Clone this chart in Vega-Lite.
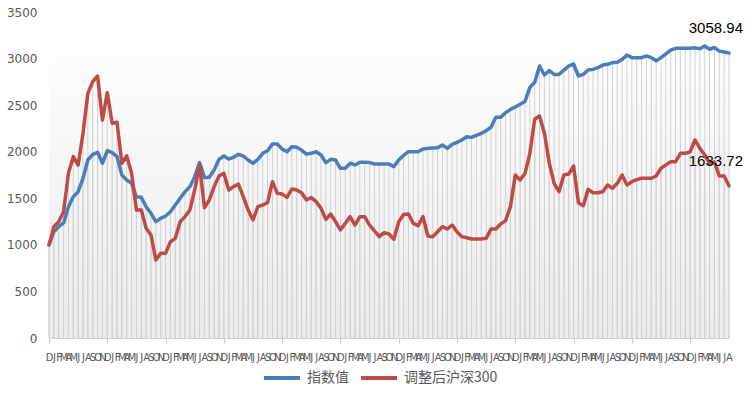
{
"$schema": "https://vega.github.io/schema/vega-lite/v6.json",
"width": 680, "height": 326,
"autosize": {"type": "none"},
"padding": {"left": 49, "top": 12, "right": 24, "bottom": 62},
"background": "white",
"config": {"view": {"stroke": null}},
"layer": [
{"data": {"values": [{}]},
 "mark": {"type": "rect", "color": {"gradient": "linear", "x1": 0, "y1": 0, "x2": 0, "y2": 1, "stops": [{"offset": 0, "color": "#ffffff"}, {"offset": 1, "color": "#ececec"}]}},
 "encoding": {}},
{"data": {"values": [
{"t":"2006-12","指数值":1000,"调整后沪深300":1000},
{"t":"2007-01","指数值":1140,"调整后沪深300":1195},
{"t":"2007-02","指数值":1195,"调整后沪深300":1249},
{"t":"2007-03","指数值":1235,"调整后沪深300":1356},
{"t":"2007-04","指数值":1410,"调整后沪深300":1768},
{"t":"2007-05","指数值":1517,"调整后沪深300":1947},
{"t":"2007-06","指数值":1571,"调整后沪深300":1857},
{"t":"2007-07","指数值":1714,"调整后沪深300":2198},
{"t":"2007-08","指数值":1911,"调整后沪深300":2627},
{"t":"2007-09","指数值":1972,"调整后沪深300":2752},
{"t":"2007-10","指数值":1994,"调整后沪深300":2813},
{"t":"2007-11","指数值":1876,"调整后沪深300":2340},
{"t":"2007-12","指数值":2011,"调整后沪深300":2634},
{"t":"2008-01","指数值":1990,"调整后沪深300":2305},
{"t":"2008-02","指数值":1947,"调整后沪深300":2316},
{"t":"2008-03","指数值":1750,"调整后沪深300":1876},
{"t":"2008-04","指数值":1696,"调整后沪深300":1957},
{"t":"2008-05","指数值":1661,"调整后沪深300":1768},
{"t":"2008-06","指数值":1517,"调整后沪深300":1374},
{"t":"2008-07","指数值":1510,"调整后沪深300":1374},
{"t":"2008-08","指数值":1410,"调整后沪深300":1178},
{"t":"2008-09","指数值":1339,"调整后沪深300":1106},
{"t":"2008-10","指数值":1249,"调整后沪深300":837},
{"t":"2008-11","指数值":1285,"调整后沪深300":909},
{"t":"2008-12","指数值":1310,"调整后沪深300":909},
{"t":"2009-01","指数值":1356,"调整后沪深300":1034},
{"t":"2009-02","指数值":1428,"调整后沪深300":1070},
{"t":"2009-03","指数值":1500,"调整后沪深300":1249},
{"t":"2009-04","指数值":1571,"调整后沪深300":1303},
{"t":"2009-05","指数值":1625,"调整后沪深300":1374},
{"t":"2009-06","指数值":1732,"调整后沪深300":1589},
{"t":"2009-07","指数值":1883,"调整后沪深300":1857},
{"t":"2009-08","指数值":1722,"调整后沪深300":1399},
{"t":"2009-09","指数值":1725,"调整后沪深300":1482},
{"t":"2009-10","指数值":1804,"调整后沪深300":1625},
{"t":"2009-11","指数值":1918,"调整后沪深300":1739},
{"t":"2009-12","指数值":1954,"调整后沪深300":1768},
{"t":"2010-01","指数值":1922,"调整后沪深300":1589},
{"t":"2010-02","指数值":1940,"调整后沪深300":1625},
{"t":"2010-03","指数值":1972,"调整后沪深300":1653},
{"t":"2010-04","指数值":1954,"调整后沪深300":1517},
{"t":"2010-05","指数值":1911,"调整后沪深300":1374},
{"t":"2010-06","指数值":1876,"调整后沪深300":1267},
{"t":"2010-07","指数值":1918,"调整后沪深300":1410},
{"t":"2010-08","指数值":1983,"调整后沪深300":1428},
{"t":"2010-09","指数值":2011,"调整后沪深300":1453},
{"t":"2010-10","指数值":2083,"调整后沪深300":1678},
{"t":"2010-11","指数值":2083,"调整后沪深300":1553},
{"t":"2010-12","指数值":2030,"调整后沪深300":1545},
{"t":"2011-01","指数值":2000,"调整后沪深300":1510},
{"t":"2011-02","指数值":2054,"调整后沪深300":1600},
{"t":"2011-03","指数值":2047,"调整后沪深300":1589},
{"t":"2011-04","指数值":2018,"调整后沪深300":1560},
{"t":"2011-05","指数值":1975,"调整后沪深300":1482},
{"t":"2011-06","指数值":1983,"调整后沪深300":1507},
{"t":"2011-07","指数值":2000,"调整后沪深300":1464},
{"t":"2011-08","指数值":1965,"调整后沪深300":1392},
{"t":"2011-09","指数值":1883,"调整后沪深300":1274},
{"t":"2011-10","指数值":1918,"调整后沪深300":1331},
{"t":"2011-11","指数值":1911,"调整后沪深300":1249},
{"t":"2011-12","指数值":1822,"调整后沪深300":1160},
{"t":"2012-01","指数值":1822,"调整后沪深300":1231},
{"t":"2012-02","指数值":1876,"调整后沪深300":1303},
{"t":"2012-03","指数值":1858,"调整后沪深300":1213},
{"t":"2012-04","指数值":1886,"调整后沪深300":1303},
{"t":"2012-05","指数值":1886,"调整后沪深300":1303},
{"t":"2012-06","指数值":1883,"调整后沪深300":1213},
{"t":"2012-07","指数值":1868,"调整后沪深300":1149},
{"t":"2012-08","指数值":1868,"调整后沪深300":1088},
{"t":"2012-09","指数值":1868,"调整后沪深300":1131},
{"t":"2012-10","指数值":1868,"调整后沪深300":1117},
{"t":"2012-11","指数值":1840,"调整后沪深300":1060},
{"t":"2012-12","指数值":1911,"调整后沪深300":1249},
{"t":"2013-01","指数值":1960,"调整后沪深300":1326},
{"t":"2013-02","指数值":2000,"调整后沪深300":1331},
{"t":"2013-03","指数值":2000,"调整后沪深300":1231},
{"t":"2013-04","指数值":2000,"调整后沪深300":1206},
{"t":"2013-05","指数值":2029,"调整后沪深300":1303},
{"t":"2013-06","指数值":2036,"调整后沪深300":1095},
{"t":"2013-07","指数值":2040,"调整后沪深300":1088},
{"t":"2013-08","指数值":2043,"调整后沪深300":1141},
{"t":"2013-09","指数值":2072,"调整后沪深300":1195},
{"t":"2013-10","指数值":2036,"调整后沪深300":1170},
{"t":"2013-11","指数值":2079,"调整后沪深300":1213},
{"t":"2013-12","指数值":2101,"调整后沪深300":1141},
{"t":"2014-01","指数值":2126,"调整后沪深300":1088},
{"t":"2014-02","指数值":2161,"调整后沪深300":1077},
{"t":"2014-03","指数值":2154,"调整后沪深300":1063},
{"t":"2014-04","指数值":2176,"调整后沪深300":1063},
{"t":"2014-05","指数值":2197,"调整后沪深300":1063},
{"t":"2014-06","指数值":2226,"调整后沪深300":1070},
{"t":"2014-07","指数值":2262,"调整后沪深300":1170},
{"t":"2014-08","指数值":2369,"调整后沪深300":1170},
{"t":"2014-09","指数值":2369,"调整后沪深300":1224},
{"t":"2014-10","指数值":2419,"调整后沪深300":1260},
{"t":"2014-11","指数值":2455,"调整后沪深300":1410},
{"t":"2014-12","指数值":2480,"调整后沪深300":1750},
{"t":"2015-01","指数值":2510,"调整后沪深300":1696},
{"t":"2015-02","指数值":2540,"调整后沪深300":1768},
{"t":"2015-03","指数值":2691,"调整后沪深300":1983},
{"t":"2015-04","指数值":2745,"调整后沪深300":2348},
{"t":"2015-05","指数值":2920,"调整后沪深300":2383},
{"t":"2015-06","指数值":2824,"调整后沪深300":2198},
{"t":"2015-07","指数值":2870,"调整后沪深300":1876},
{"t":"2015-08","指数值":2830,"调整后沪深300":1661},
{"t":"2015-09","指数值":2830,"调整后沪深300":1571},
{"t":"2015-10","指数值":2877,"调整后沪深300":1750},
{"t":"2015-11","指数值":2920,"调整后沪深300":1760},
{"t":"2015-12","指数值":2942,"调整后沪深300":1847},
{"t":"2016-01","指数值":2813,"调整后沪深300":1453},
{"t":"2016-02","指数值":2830,"调整后沪深300":1421},
{"t":"2016-03","指数值":2877,"调整后沪深300":1596},
{"t":"2016-04","指数值":2884,"调整后沪深300":1560},
{"t":"2016-05","指数值":2902,"调整后沪深300":1560},
{"t":"2016-06","指数值":2931,"调整后沪深300":1571},
{"t":"2016-07","指数值":2938,"调整后沪深300":1643},
{"t":"2016-08","指数值":2956,"调整后沪深300":1607},
{"t":"2016-09","指数值":2960,"调整后沪深300":1661},
{"t":"2016-10","指数值":2992,"调整后沪深300":1750},
{"t":"2016-11","指数值":3038,"调整后沪深300":1643},
{"t":"2016-12","指数值":3010,"调整后沪深300":1678},
{"t":"2017-01","指数值":3010,"调整后沪深300":1700},
{"t":"2017-02","指数值":3010,"调整后沪深300":1715},
{"t":"2017-03","指数值":3028,"调整后沪深300":1715},
{"t":"2017-04","指数值":3010,"调整后沪深300":1715},
{"t":"2017-05","指数值":2977,"调整后沪深300":1739},
{"t":"2017-06","指数值":3010,"调整后沪深300":1822},
{"t":"2017-07","指数值":3050,"调整后沪深300":1857},
{"t":"2017-08","指数值":3090,"调整后沪深300":1893},
{"t":"2017-09","指数值":3110,"调整后沪深300":1893},
{"t":"2017-10","指数值":3110,"调整后沪深300":1983},
{"t":"2017-11","指数值":3110,"调整后沪深300":1983},
{"t":"2017-12","指数值":3110,"调整后沪深300":2000},
{"t":"2018-01","指数值":3115,"调整后沪深300":2126},
{"t":"2018-02","指数值":3105,"调整后沪深300":2036},
{"t":"2018-03","指数值":3135,"调整后沪深300":1965},
{"t":"2018-04","指数值":3100,"调整后沪深300":1876},
{"t":"2018-05","指数值":3120,"调整后沪深300":1890},
{"t":"2018-06","指数值":3080,"调整后沪深300":1739},
{"t":"2018-07","指数值":3070,"调整后沪深300":1739},
{"t":"2018-08","指数值":3058.94,"调整后沪深300":1633.72}
]},
 "transform": [{"fold": ["指数值", "调整后沪深300"], "as": ["s", "v"]}],
 "encoding": {
   "x": {"field": "t", "type": "ordinal", "sort": "ascending", "scale": {"type": "point", "padding": 0},
     "axis": {"title": null, "labelAngle": 0, "labelOverlap": false, "labelFont": "DejaVu Sans Condensed", "labelFontSize": 11, "labelColor": "#595959", "labelPadding": 8,
       "labelExpr": "substring('JFMAMJJASOND', toNumber(substring(datum.value,5,7))-1, toNumber(substring(datum.value,5,7)))",
       "domainColor": "#d0d0d0", "tickColor": "#c8c8c8", "tickSize": 5,
       "tickOpacity": {"condition": {"test": "substring(datum.value,5,7) === '12'", "value": 1}, "value": 0}}},
   "y": {"field": "v", "type": "quantitative", "scale": {"domain": [0, 3500], "nice": false},
     "axis": {"title": null, "values": [0, 500, 1000, 1500, 2000, 2500, 3000, 3500], "format": "d", "grid": false, "ticks": false, "domain": false, "labelFont": "DejaVu Sans", "labelFontSize": 12, "labelColor": "#595959", "labelPadding": 12}}
 },
 "layer": [
   {"mark": {"type": "rule", "color": "#d2d2d2", "strokeWidth": 1}, "encoding": {"y2": {"datum": 0}}},
   {"mark": {"type": "line", "strokeWidth": 3.5, "strokeJoin": "round", "strokeCap": "round"},
    "encoding": {"color": {"field": "s", "type": "nominal", "sort": ["指数值", "调整后沪深300"],
      "scale": {"domain": ["指数值", "调整后沪深300"], "range": ["#4a7ebb", "#be4b48"]},
      "legend": {"title": null, "orient": "none", "direction": "horizontal", "legendX": 213, "legendY": 346, "padding": 0,
        "symbolType": "stroke", "symbolSize": 1296, "symbolStrokeWidth": 4, "labelFont": "Noto Sans CJK SC", "labelFontSize": 14, "labelColor": "#595959", "labelOffset": 5, "columnPadding": 4}}}},
   {"transform": [{"filter": "datum.t === '2018-08'"}],
    "mark": {"type": "text", "align": "right", "baseline": "alphabetic", "dx": 14, "dy": -20, "font": "Liberation Sans", "fontSize": 15, "color": "#000000"},
    "encoding": {"text": {"field": "v", "type": "quantitative", "format": ".2f"}}}
 ]}
]
}
